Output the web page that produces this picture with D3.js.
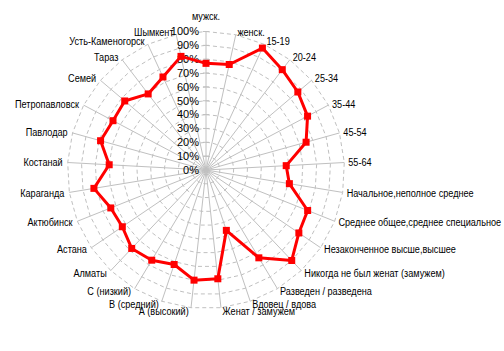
<!DOCTYPE html>
<html><head><meta charset="utf-8">
<script src="https://cdn.jsdelivr.net/npm/d3@7"></script>
<style>
html,body{margin:0;padding:0;background:#fff;}
svg text{font-family:"Liberation Sans",Arial,sans-serif;font-size:11px;fill:#000;}
</style></head>
<body><svg id="c" width="504" height="351"></svg>
<script>
const categories = ["мужск.","женск.","15-19","20-24","25-34","35-44","45-54","55-64",
 "Начальное,неполное среднее","Среднее общее,среднее специальное","Незаконченное высше,высшее",
 "Никогда не был женат (замужем)","Разведен / разведена","Вдовец / вдова","Женат / замужем",
 "А (высокий)","В (средний)","С (низкий)","Алматы","Астана","Актюбинск","Караганда","Костанай",
 "Павлодар","Петропавловск","Семей","Тараз","Усть-Каменогорск","Шымкент"];
const values = [77,78,97,91,87,83,75,58,61,79,81,90,74,46,79,80,72,76,78,73,74,82,70,79,76,77,69,74,84];
const tickValues = [0,10,20,30,40,50,60,70,80,90,100];
const tickLabels = ["0%","10%","20%","30%","40%","50%","60%","70%","80%","90%","100%"];

const svg = d3.select("#c");
const cx = 206, cy = 170, R = 138.5;
const n = categories.length;
const r = d3.scaleLinear().domain([0,100]).range([0,R]);
const ang = d3.scaleLinear().domain([0,n]).range([0,2*Math.PI]);
const g = svg.append("g").attr("transform",`translate(${cx},${cy})`);

// rings (dashed polygons)
tickValues.slice(1).forEach(t=>{
  g.append("path")
   .attr("d", d3.lineRadial().angle((d,i)=>ang(i)).radius(()=>r(t)).curve(d3.curveLinearClosed)(categories))
   .attr("fill","none").attr("stroke","#c0c0c0").attr("stroke-width",1).attr("stroke-dasharray","4,3");
});
// spokes
categories.forEach((c,i)=>{
  const a = ang(i);
  g.append("line").attr("x1",0).attr("y1",0)
   .attr("x2",r(100)*Math.sin(a)).attr("y2",-r(100)*Math.cos(a))
   .attr("stroke","#c0c0c0").attr("stroke-width",1);
});
// axis ticks on vertical spoke
tickValues.forEach(t=>{
  g.append("line").attr("x1",-3).attr("x2",3).attr("y1",-r(t)).attr("y2",-r(t))
   .attr("stroke","#c0c0c0");
});
// tick labels
tickValues.forEach((t,i)=>{
  g.append("text").attr("x",-7).attr("y",-r(t)).attr("dy","0.35em")
   .attr("text-anchor","end").text(tickLabels[i]);
});
// category labels (narrow, like the reference)
categories.forEach((c,i)=>{
  const a = ang(i), s = Math.sin(a), co = Math.cos(a);
  let x = (R+3)*s, y = -(R+3)*co, anchor = "middle";
  if (s > 0.01) { anchor = "start"; x += 1; }
  else if (s < -0.01) { anchor = "end"; x -= 2; }
  else { y = -R - 15; }
  g.append("text").attr("transform",`translate(${x},${y}) scale(0.83,1)`).attr("dy","0.35em")
   .attr("text-anchor",anchor).text(c);
});
// series line
g.append("path")
 .attr("d", d3.lineRadial().angle((d,i)=>ang(i)).radius(d=>r(d)).curve(d3.curveLinearClosed)(values))
 .attr("fill","none").attr("stroke","#ff0000").attr("stroke-width",3).attr("stroke-linejoin","round");
// markers
values.forEach((v,i)=>{
  const a = ang(i);
  g.append("rect").attr("x",r(v)*Math.sin(a)-3.5).attr("y",-r(v)*Math.cos(a)-3.5)
   .attr("width",7).attr("height",7).attr("fill","#ff0000");
});
</script></body></html>
